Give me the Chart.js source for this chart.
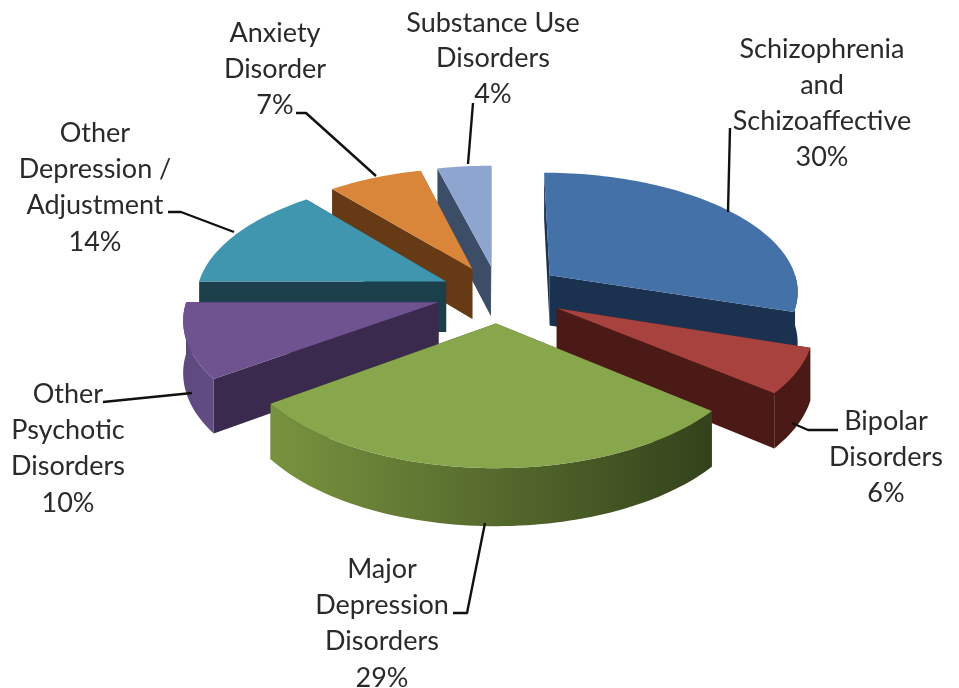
<!DOCTYPE html>
<html><head><meta charset="utf-8">
<style>html,body{margin:0;padding:0;background:#fff}#w{width:959px;height:688px}</style>
<script src="https://cdn.jsdelivr.net/npm/chart.js@4"></script>
</head><body><div id="w"><canvas id="c" width="959" height="688"></canvas></div>
<script>
const categories = ['Schizophrenia and Schizoaffective','Bipolar Disorders','Major Depression Disorders','Other Psychotic Disorders','Other Depression / Adjustment','Anxiety Disorder','Substance Use Disorders'];
const values = [30,6,29,10,14,7,4];
const explode = [65,66,62,62,58,58,58];
const labelLines = [['Schizophrenia','and','Schizoaffective'],['Bipolar','Disorders'],['Major','Depression','Disorders'],['Other','Psychotic','Disorders'],['Other','Depression /','Adjustment'],['Anxiety','Disorder'],['Substance Use','Disorders']];
const topColors = ['#4471a8','#a8423f','#88a64c','#6f5290','#3f96ae','#d9853a','#8da5cf'];
const faceColors = ['#1b3150','#4c1a16','#3b4a20','#3a2a4e','#1c3f4c','#663a14','#3c4d68'];
const wallStops = [['#1b3150','#1b3150'],['#4a1915','#4c1a16'],['#78933f','#34421b'],['#5d4a7e','#624c84'],['#2a6070','#1c3f4c'],['#8a5020','#663a14'],['#5a7090','#3c4d68']];
const drawOrder = [6,5,0,4,3,1,2];
const labelPos = [[822,49,36],[886,421,36],[382,569,36.3],[68,394,36.3],[95,133,36.3],[275,33,36.3],[493,23,35.5]];
const leaders = [[[728,212],[730,128]],[[792,423],[808,430],[838,430]],[[485,523],[467,613],[453,613]],[[192,393],[103,402]],[[234,232],[181,212],[168,212]],[[376,176],[306,113],[296,113]],[[468,164],[473,103]]];

const P = {cx:498, cy:293, R:250, q:.476, k:.122, h:51, font:'27px Lato, "Open Sans", sans-serif'};
function project(px,py,dz){
  const w = 1/(1-P.k*py);
  return [P.cx+P.R*px*w, P.cy+P.R*P.q*py*w+dz*Math.pow(w,.78)];
}
function pie3d(chart){
  const ctx = chart.ctx, meta = chart.getDatasetMeta(0);
  drawOrder.forEach(i=>{
    const el = meta.data[i], a0 = el.startAngle, a1 = el.endAngle, mid=(a0+a1)/2;
    const e = el.options.offset/P.R, ox = e*Math.cos(mid), oy = e*Math.sin(mid);
    const arc = (from,to,dz)=>{const out=[];const n=Math.max(6,Math.ceil((to-from)*40));
      for(let s=0;s<=n;s++){const t=from+(to-from)*s/n;out.push(project(ox+Math.cos(t),oy+Math.sin(t),dz));}return out;};
    const apex = dz=>project(ox,oy,dz);
    const poly = (pts,fill)=>{ctx.beginPath();pts.forEach((p,j)=>j?ctx.lineTo(p[0],p[1]):ctx.moveTo(p[0],p[1]));ctx.closePath();ctx.fillStyle=fill;ctx.fill();};
    const t0=arc(a0,a1,0);
    // cut faces, farther one first
    const first=t0[0], last=t0[t0.length-1];
    const bFirst=project(ox+Math.cos(a0),oy+Math.sin(a0),P.h), bLast=project(ox+Math.cos(a1),oy+Math.sin(a1),P.h);
    const faces=[[first,bFirst],[last,bLast]].sort((a,b)=>a[0][1]-b[0][1]);
    faces.forEach(f=>poly([apex(0),f[0],f[1],apex(P.h)],faceColors[i]));
    // outer wall: only the part facing the viewer
    const from=Math.max(a0,0), to=Math.min(a1,Math.PI);
    if(to>from){
      const wt=arc(from,to,0), wb=arc(from,to,P.h), xs=wt.map(p=>p[0]);
      const g=ctx.createLinearGradient(Math.min(...xs),0,Math.max(...xs),0);
      g.addColorStop(0,wallStops[i][0]);g.addColorStop(1,wallStops[i][1]);
      poly(wt.concat(wb.slice().reverse()),g);
    }
    // top
    poly([apex(0)].concat(t0),topColors[i]);
  });
}
const annot = {id:'annot',afterDraw(chart){
  const ctx=chart.ctx;ctx.save();
  ctx.strokeStyle='#111';ctx.lineWidth=2.4;ctx.lineJoin='round';
  leaders.forEach(l=>{ctx.beginPath();l.forEach((p,j)=>j?ctx.lineTo(p[0],p[1]):ctx.moveTo(p[0],p[1]));ctx.stroke();});
  ctx.fillStyle='#2a2a2a';ctx.font=P.font;ctx.textAlign='center';ctx.textBaseline='middle';
  categories.forEach((c,i)=>{
    const [x,y,dy]=labelPos[i];
    labelLines[i].concat([values[i]+'%']).forEach((s,j)=>ctx.fillText(s,x,y+j*dy));
  });
  ctx.restore();
}};
const pie = {id:'pie3d',beforeDatasetsDraw(chart){pie3d(chart);return false;}};
new Chart(document.getElementById('c'),{
  type:'pie',
  data:{labels:categories,datasets:[{data:values,backgroundColor:topColors,offset:explode,borderWidth:0}]},
  options:{responsive:false,animation:false,plugins:{legend:{display:false},tooltip:{enabled:false}}},
  plugins:[pie,annot]
});
</script></body></html>
